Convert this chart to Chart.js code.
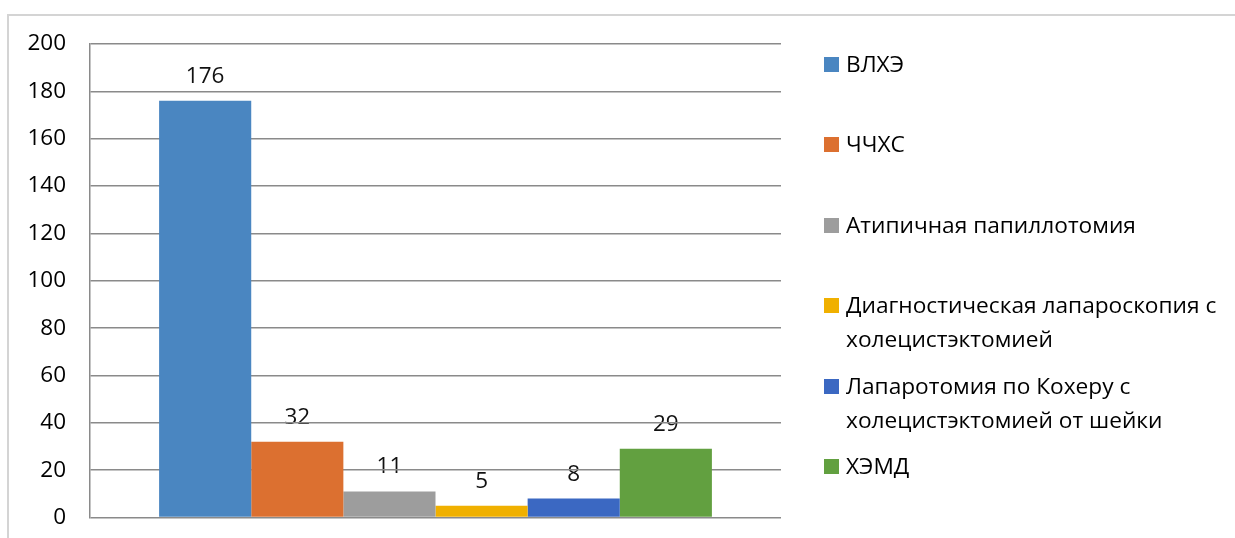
<!DOCTYPE html>
<html><head><meta charset="utf-8">
<script src="https://cdn.jsdelivr.net/npm/chart.js@4"></script>
<style>
html,body{margin:0;padding:0;background:#fff;}
#wrap{position:relative;width:1235px;height:538px;overflow:hidden;font-family:"Open Sans",sans-serif;}
#frame{position:absolute;left:7px;top:14px;width:1240px;height:540px;border-left:2px solid #d4d4d4;border-top:2px solid #d4d4d4;box-sizing:border-box;}
#c{position:absolute;left:0;top:0;}
.li{position:absolute;left:824px;font-size:22.7px;color:#000;line-height:34px;}
.li .box{position:absolute;left:0;top:10px;width:15px;height:15px;}
.li .txt{position:absolute;left:22px;top:0;white-space:nowrap;}
</style></head>
<body><div id="wrap"><div id="frame"></div><canvas id="c" width="1235" height="555"></canvas><div id="legend"></div></div>
<script>
const categories = [""];
const seriesNames = ["ВЛХЭ","ЧЧХС","Атипичная папиллотомия","Диагностическая лапароскопия с\nхолецистэктомией","Лапаротомия по Кохеру с\nхолецистэктомией от шейки","ХЭМД"];
const seriesValues = [176, 32, 11, 5, 8, 29];
const seriesColors = ["#4a86c1","#dc7030","#9d9d9d","#f0b000","#3b68c2","#62a040"];
const yTicks = [0,20,40,60,80,100,120,140,160,180,200];

const datasets = seriesNames.map((n,i)=>({label:n.replace("\n"," "),data:[seriesValues[i]],backgroundColor:seriesColors[i],borderWidth:0}));

const labelPlugin = {
  id:'vals',
  beforeDraw(chart){
    const ctx = chart.ctx;
    ctx.save();
    ctx.font = '22.5px "Open Sans"';
    ctx.fillStyle = '#111';
    ctx.textAlign = 'center';
    ctx.textBaseline = 'alphabetic';
    chart.data.datasets.forEach((ds,i)=>{
      const meta = chart.getDatasetMeta(i);
      meta.data.forEach((bar,j)=>{
        ctx.fillText(String(ds.data[j]), bar.x, bar.y - 18);
      });
    });
    ctx.restore();
  }
};

new Chart(document.getElementById('c'),{
  type:'bar',
  data:{labels:categories,datasets},
  options:{
    responsive:false,animation:false,
    layout:{padding:{left:0,right:454,top:44,bottom:0}},
    plugins:{legend:{display:false},tooltip:{enabled:false}},
    datasets:{bar:{categoryPercentage:0.8,barPercentage:1.0}},
    scales:{
      x:{display:false},
      y:{min:0,max:200,
        afterFit(s){s.width=90;},
        afterBuildTicks(s){s.ticks=yTicks.map(v=>({value:v}));},
        ticks:{padding:24,color:'#000',font:{family:'"Open Sans"',size:22.5}},
        grid:{color:'#8a8a8a',lineWidth:1.5,drawTicks:false},
        border:{display:true,color:'#8a8a8a',width:1.5}
      }
    }
  },
  plugins:[labelPlugin]
});

const leg = document.getElementById('legend');
seriesNames.forEach((n,i)=>{
  const d = document.createElement('div');
  d.className='li';
  d.style.top = (64 + i*80.4 - 17) + 'px';
  const b = document.createElement('div'); b.className='box'; b.style.background=seriesColors[i];
  const t = document.createElement('div'); t.className='txt'; t.innerHTML = n.split("\n").join("<br>");
  d.appendChild(b); d.appendChild(t); leg.appendChild(d);
});
</script></body></html>
